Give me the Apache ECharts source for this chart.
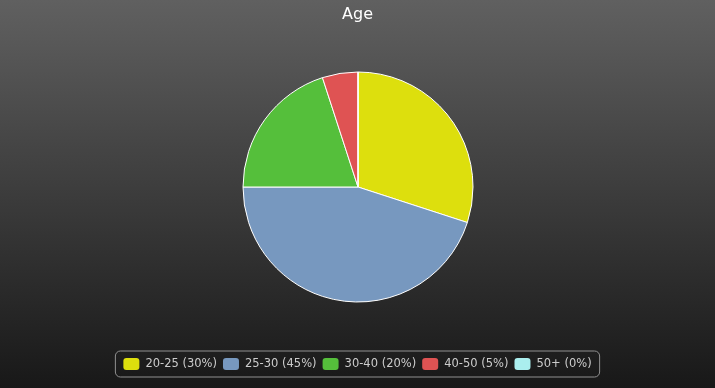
<!DOCTYPE html>
<html>
<head>
<meta charset="utf-8">
<script src="https://cdn.jsdelivr.net/npm/echarts@6/dist/echarts.min.js"></script>
<style>
html,body{margin:0;padding:0;}
#c{width:715px;height:388px;}
</style>
</head>
<body>
<div id="c"></div>
<script>
const categories = ['20-25', '25-30', '30-40', '40-50', '50+'];
const values = [30, 45, 20, 5, 0];
const colors = ['#DDDF0D', '#7798BF', '#55BF3B', '#DF5353', '#aaeeee'];
const titleText = 'Age';

const chart = echarts.init(document.getElementById('c'), null, {renderer: 'canvas'});
const total = values.reduce((a, b) => a + b, 0);
chart.setOption({
  animation: false,
  backgroundColor: {
    type: 'linear', x: 0, y: 0, x2: 0, y2: 1,
    colorStops: [{offset: 0, color: 'rgb(96,96,96)'}, {offset: 1, color: 'rgb(24,24,24)'}]
  },
  title: {
    text: titleText, left: 'center', top: 2,
    textStyle: {color: '#ffffff', fontSize: 16, fontWeight: 'normal', fontFamily: 'DejaVu Sans'}
  },
  legend: {
    top: 351, left: 'center',
    icon: 'roundRect', itemWidth: 16, itemHeight: 12, itemGap: 6,
    padding: [7, 8, 7, 8],
    borderColor: '#909090', borderWidth: 1, borderRadius: 5,
    itemStyle: {borderWidth: 0},
    textStyle: {color: '#cccccc', fontSize: 11.5, fontFamily: 'DejaVu Sans', padding: [0, 0, 0, 1]},
    formatter: function (name) {
      const i = categories.indexOf(name);
      return name + ' (' + Math.round(values[i] / total * 100) + '%)';
    },
    data: categories
  },
  series: [{
    type: 'pie',
    center: [358, 187],
    radius: 115,
    startAngle: 90,
    clockwise: true,
    label: {show: false},
    labelLine: {show: false},
    emphasis: {disabled: true},
    itemStyle: {borderColor: '#ffffff', borderWidth: 1},
    data: categories.map((c, i) => ({name: c, value: values[i], itemStyle: {color: colors[i]}}))
  }]
});
</script>
</body>
</html>
